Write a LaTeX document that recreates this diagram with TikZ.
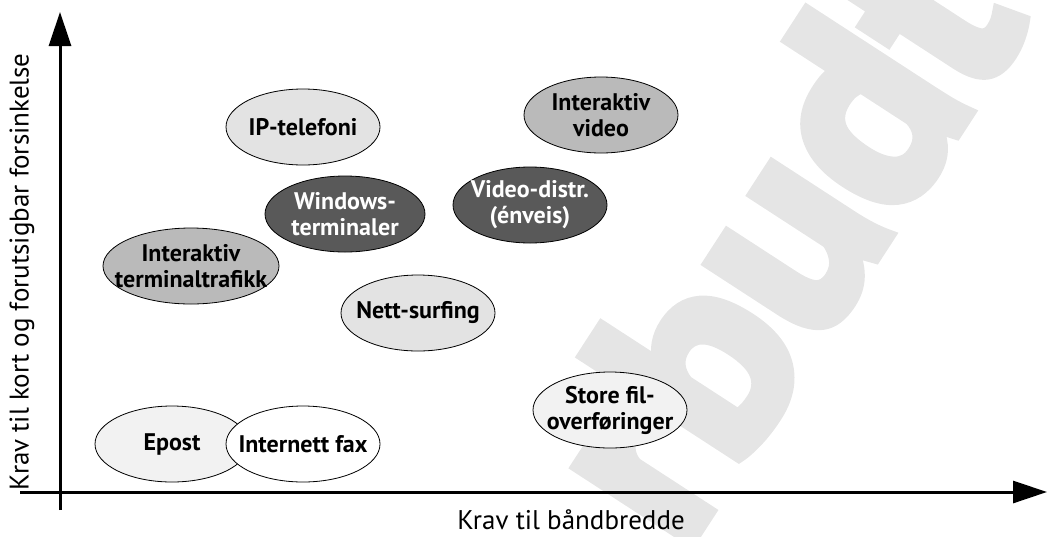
\documentclass[tikz,border=0pt]{standalone}
\usepackage{fontspec}
\setmainfont{PT Sans}
\newfontfamily\stempelfont[FakeBold=4]{PT Sans Bold}
\usetikzlibrary{shapes.geometric,arrows.meta}

\begin{document}
\begin{tikzpicture}[x=1pt,y=-1pt,
	felt/.style={ellipse,draw=black,line width=0.8pt,minimum width=154pt,
	minimum height=76pt,inner xsep=-40pt,inner ysep=-6pt,align=center,
	font=\fontsize{24}{26}\selectfont\bfseries},
	hvit/.style={felt,fill=white},
	bleik/.style={felt,fill=black!5},
	lys/.style={felt,fill=black!11},
	middels/.style={felt,fill=black!27},
	mork/.style={felt,fill=black!65,text=white},
	akse/.style={line width=3pt,-{Triangle[length=34pt,width=22pt]}}]
\useasboundingbox (0,0) rectangle (1048,536);
% stempel i bakgrunnen
\begin{scope}
\clip (0,0) rectangle (1048,536);
\node[rotate=57,text=black!10,inner sep=0pt,anchor=base,
	font=\stempelfont\fontsize{275}{275}\selectfont] (stempel) at (856,288) {rbudt};
\end{scope}
% aksene
\coordinate (yfot) at (60,510);
\coordinate (ytopp) at (60,12);
\coordinate (xfot) at (20,492);
\coordinate (xende) at (1047,492);
\draw[akse] (yfot) -- (ytopp);
\draw[akse] (xfot) -- (xende);
\node[rotate=90,font=\fontsize{27}{30}\selectfont] (ytekst) at (22,272)
	{Krav til kort og forutsigbar forsinkelse};
\node[font=\fontsize{27}{30}\selectfont] (xtekst) at (571,520) {Krav til båndbredde};
% tjenestene
\node[lys] (ip) at (303,127) {IP-telefoni};
\node[middels] (ivideo) at (601,115) {Interaktiv\\video};
\node[mork,minimum width=160pt] (win) at (345,214) {Windows-\\terminaler};
\node[mork] (vdistr) at (530,205) {Video-distr.\\(énveis)};
\node[middels,minimum width=176pt] (iterm) at (191,266) {Interaktiv\\terminaltrafikk};
\node[lys] (surf) at (418,313) {Nett-surfing};
\node[bleik] (epost) at (172,444) {Epost};
\node[hvit] (fax) at (303,444) {Internett fax};
\node[bleik] (fil) at (610,410) {Store fil-\\overføringer};
\end{tikzpicture}
\end{document}
